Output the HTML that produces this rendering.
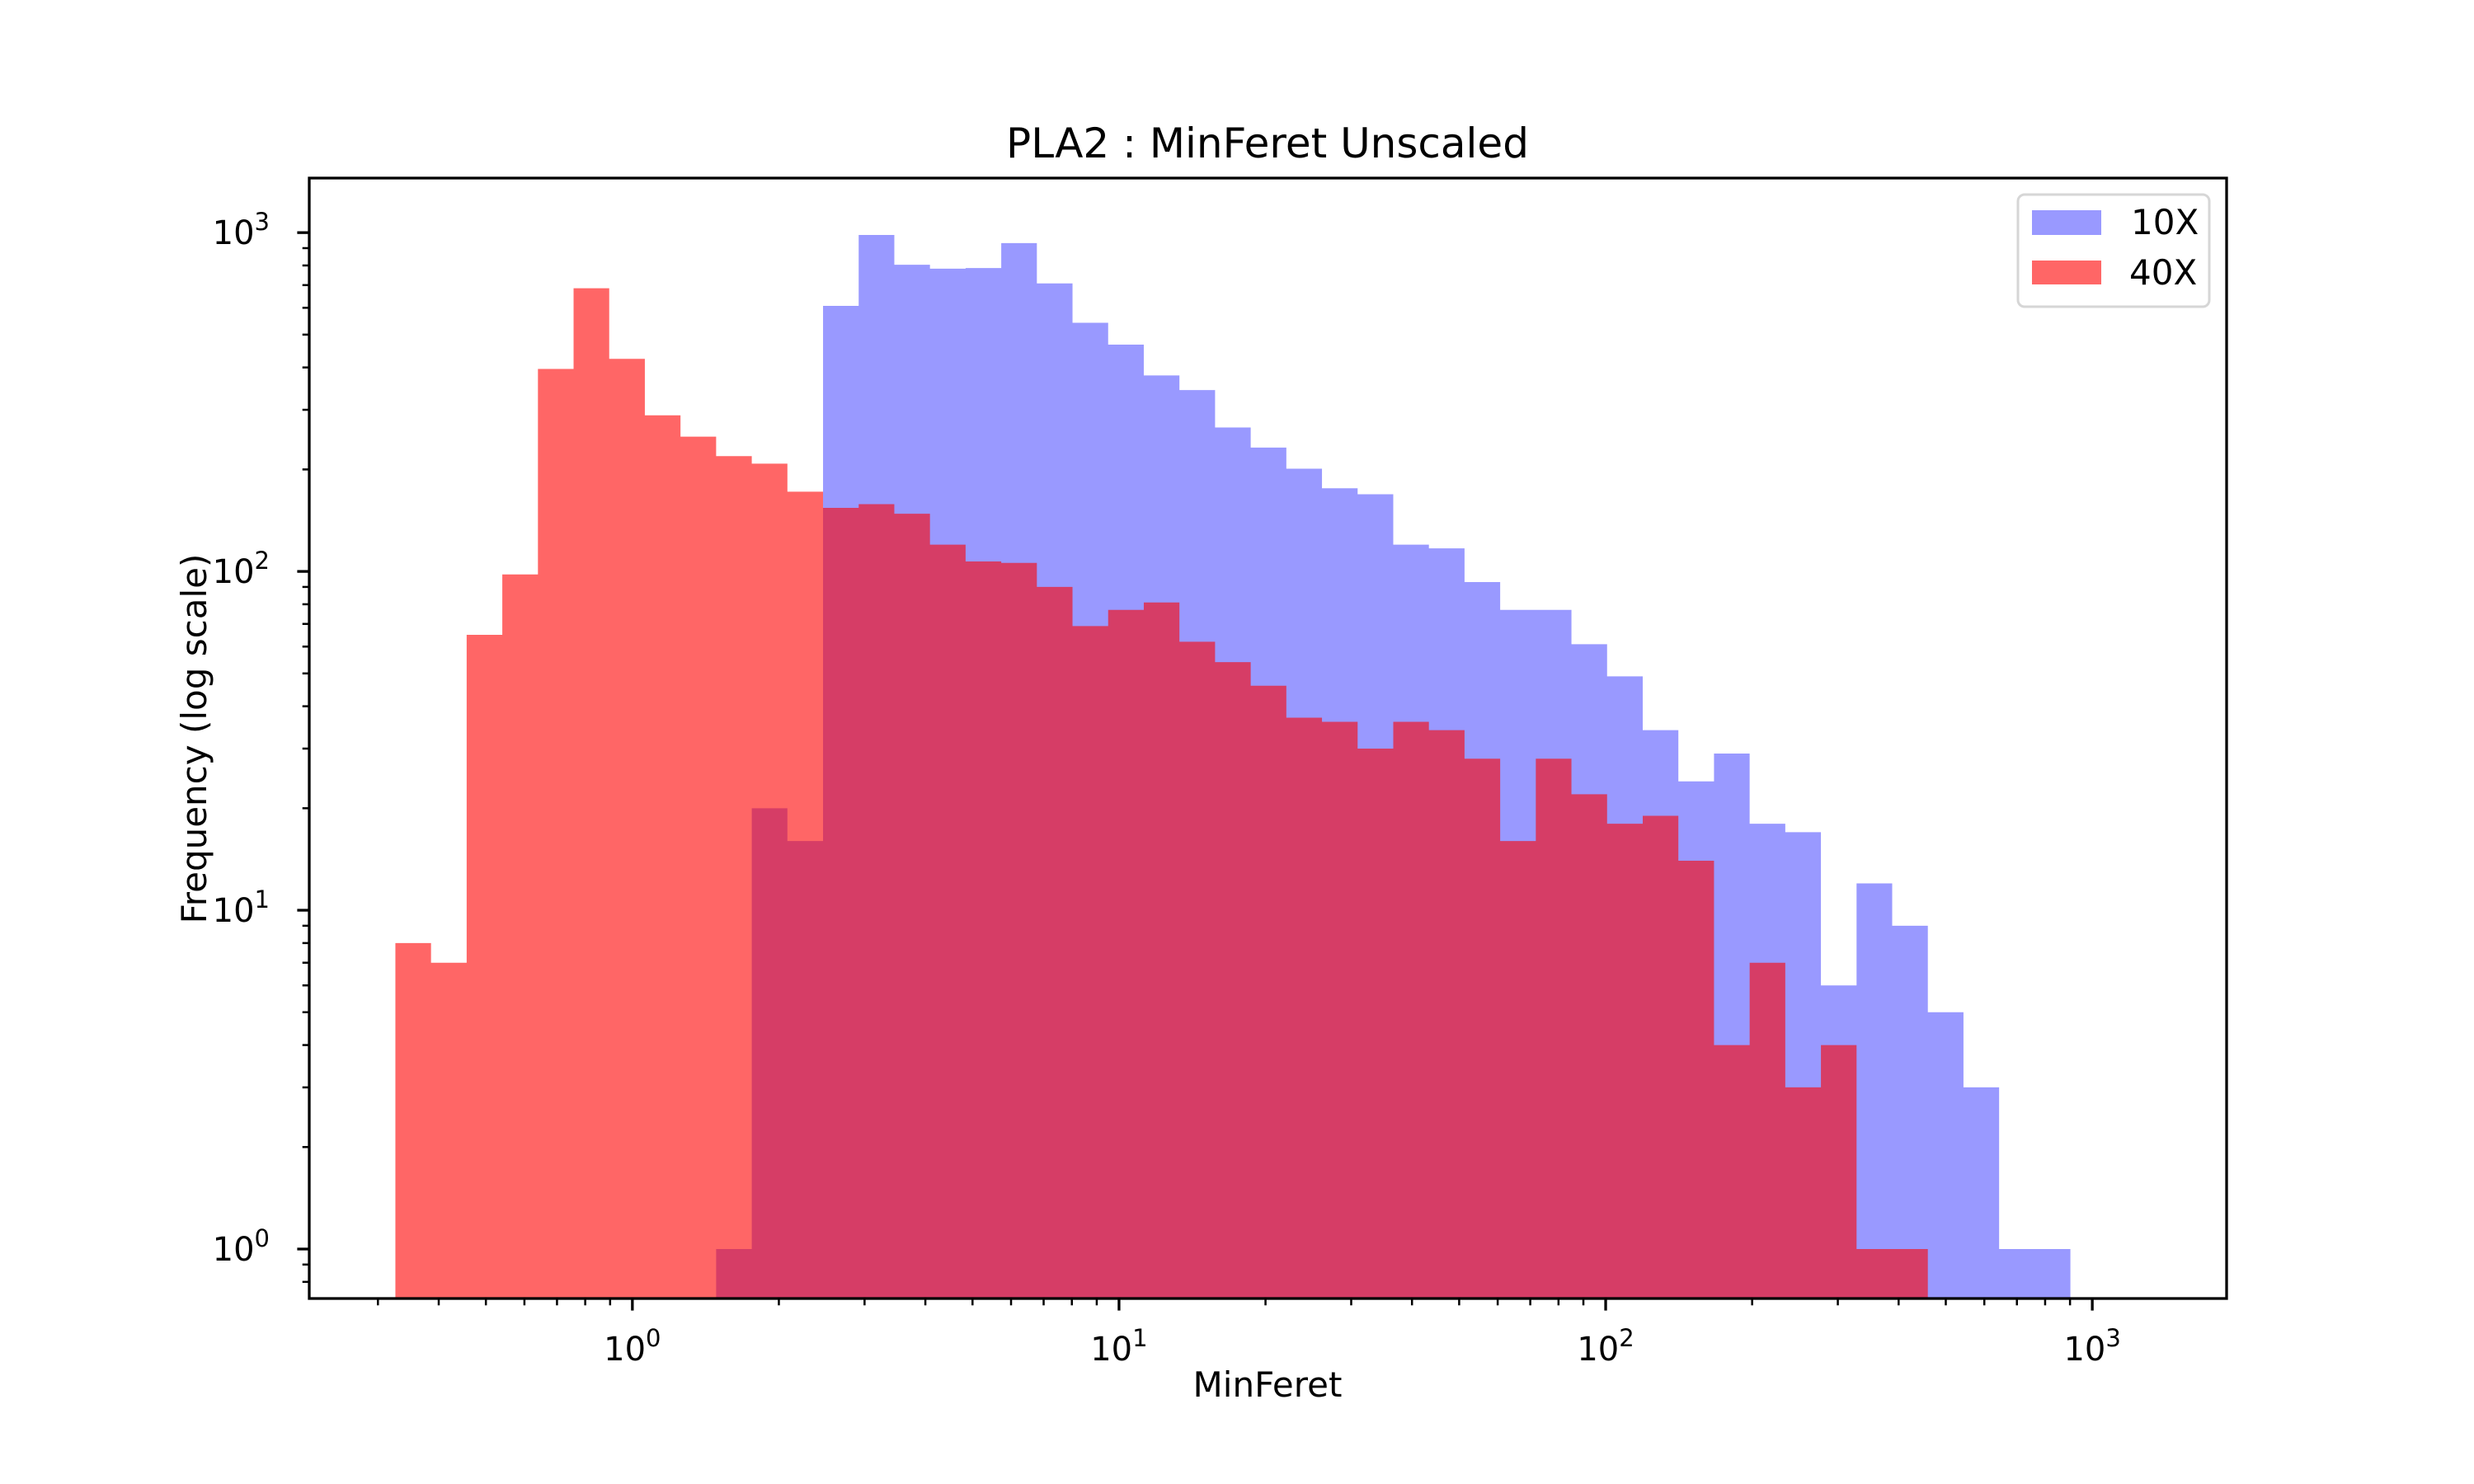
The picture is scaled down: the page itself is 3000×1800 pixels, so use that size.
<!DOCTYPE html>
<html><head><meta charset="utf-8"><style>
html,body{margin:0;padding:0;background:#fff}
svg{display:block}
text{font-family:"DejaVu Sans","Liberation Sans",sans-serif;fill:#000}
</style></head><body>
<svg id="chart" width="3000" height="1800" viewBox="0 0 3000 1800" xmlns="http://www.w3.org/2000/svg">
<rect width="3000" height="1800" fill="#fff"/>
<g id="bars"></g>
<g id="axes"></g>
<text x="1537" y="191" font-size="50" text-anchor="middle">PLA2 : MinFeret Unscaled</text>
<text x="1537" y="1694" font-size="42" text-anchor="middle">MinFeret</text>
<text x="0" y="0" font-size="42" text-anchor="middle" transform="translate(250,896) rotate(-90)">Frequency (log scale)</text>
<g>
<rect x="2447" y="236" width="232" height="136" rx="8" fill="#fff" stroke="#d6d6d6" stroke-width="3"/>
<rect x="2464" y="255" width="84" height="30" fill="#9999ff"/>
<text x="2584" y="284" font-size="42">10X</text>
<rect x="2464" y="316" width="84" height="29" fill="#ff6666"/>
<text x="2582" y="345" font-size="42">40X</text>
</g>
</svg>
<script>
const binLo = -0.487, binHi = 2.955, binCount = 47;
const counts10x = [0,0,0,0,0,0,0,0,0,1,20,16,608,984,804,783,786,931,708,542,467,379,343,266,232,201,176,169,120,117,93,77,77,61,49,34,24,29,18,17,6,12,9,5,3,1,1];
const counts40x = [8,7,65,98,396,685,424,289,250,219,208,172,154,158,148,120,107,106,90,69,77,81,62,54,46,37,36,30,36,34,28,16,28,22,18,19,14,4,7,3,4,1,1,0,0,0,0];
const xTickExps = [0,1,2,3];
const yTickExps = [0,1,2,3];

const L=375,R=2700,T=216,B=1575;
const xMin=-0.664,xMax=3.276,yMin=-0.146,yMax=3.161;
const NS="http://www.w3.org/2000/svg";
function X(lv){return L+(lv-xMin)/(xMax-xMin)*(R-L);}
function Y(lv){return B-(lv-yMin)/(yMax-yMin)*(B-T);}
function mk(tag,attrs,parent){const e=document.createElementNS(NS,tag);for(const k in attrs)e.setAttribute(k,attrs[k]);parent.appendChild(e);return e;}
const bars=document.getElementById('bars');
const axes=document.getElementById('axes');
const w=(binHi-binLo)/binCount;
function drawSeries(arr,color,name){
  let d='';
  arr.forEach((c,i)=>{
    if(c<=0)return;
    const x0=X(binLo+i*w),x1=X(binLo+(i+1)*w),y=Y(Math.log10(c));
    d+='M'+x0+' '+B+'V'+y+'H'+x1+'V'+B+'Z';
  });
  const p=mk('path',{d:d,fill:color,stroke:'none'},bars);
  
  
}
drawSeries(counts10x,'#9999ff','10x');
drawSeries(counts40x,'rgba(255,0,0,0.6)','40x');

for(let e=-1;e<=3;e++){
  for(let m=1;m<10;m++){
    const lv=e+Math.log10(m);
    if(lv<xMin||lv>xMax)continue;
    const len=m===1?14.6:8.3,sw=m===1?3.3:2.5;
    const t=mk('line',{x1:X(lv),x2:X(lv),y1:B,y2:B+len,stroke:'#000','stroke-width':sw},axes);
    
    
  }
}
xTickExps.forEach(e=>{
  const g=mk('text',{x:X(e),y:1650,'font-size':40,'text-anchor':'middle'},axes);
  
  
  g.innerHTML='10<tspan font-size="29" dy="-17">'+e+'</tspan>';
});
for(let e=-1;e<=3;e++){
  for(let m=1;m<10;m++){
    const lv=e+Math.log10(m);
    if(lv<yMin||lv>yMax)continue;
    const len=m===1?14.6:8.3,sw=m===1?3.3:2.5;
    const t=mk('line',{x1:L,x2:L-len,y1:Y(lv),y2:Y(lv),stroke:'#000','stroke-width':sw},axes);
    
    
  }
}
yTickExps.forEach(e=>{
  const g=mk('text',{x:327,y:Y(e)+14,'font-size':40,'text-anchor':'end'},axes);
  
  
  g.innerHTML='10<tspan font-size="29" dy="-17">'+e+'</tspan>';
});
const fr=mk('rect',{x:L,y:T,width:R-L,height:B-T,fill:'none',stroke:'#000','stroke-width':3.3},axes);


</script>
</body></html>
